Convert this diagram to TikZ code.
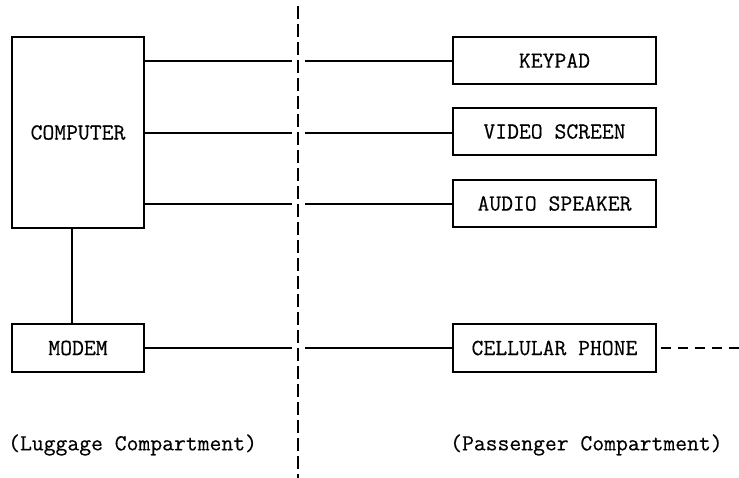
\documentclass[tikz,border=0pt]{standalone}
\usepackage{fontspec}
\newfontfamily\reftt{Latin Modern Mono}[FakeBold=0.4]
\begin{document}
\begin{tikzpicture}[x=1pt,y=-1pt,
  tt/.style={font=\reftt\fontsize{23}{26}\selectfont},
  box/.style={draw,line width=1.4pt,rectangle,inner sep=0pt,tt},
  wire/.style={line width=1.3pt},
  lbl/.style={tt,inner sep=0pt,anchor=west}]
\useasboundingbox (0,0) rectangle (739,478);
% boxes
\node[box,minimum width=132pt,minimum height=191pt] (comp) at (78,132.5) {COMPUTER};
\node[box,minimum width=132pt,minimum height=48pt] (modem) at (78,348) {MODEM};
\node[box,minimum width=203pt,minimum height=47pt] (key) at (554.5,60.5) {KEYPAD};
\node[box,minimum width=203pt,minimum height=47pt] (video) at (554.5,131.5) {VIDEO SCREEN};
\node[box,minimum width=203pt,minimum height=47pt] (audio) at (554.5,203.5) {AUDIO SPEAKER};
\node[box,minimum width=203pt,minimum height=48pt] (cell) at (554.5,348) {CELLULAR PHONE};
% compartment divider
\coordinate (dtop) at (298,6);
\coordinate (dbot) at (298,478);
\draw[line width=1.3pt,dash pattern=on 13pt off 5pt] (dtop) -- (dbot);
% connectors with gap at divider
\foreach \n/\yy in {key/61,video/133,audio/204}{
  \coordinate (l\n) at (292,\yy);
  \coordinate (r\n) at (305,\yy);
}
\draw[wire] (comp.east |- lkey) -- (lkey);
\draw[wire] (rkey) -- (key.west |- rkey);
\draw[wire] (comp.east |- lvideo) -- (lvideo);
\draw[wire] (rvideo) -- (video.west |- rvideo);
\draw[wire] (comp.east |- laudio) -- (laudio);
\draw[wire] (raudio) -- (audio.west |- raudio);
\coordinate (lmodem) at (292,348);
\coordinate (rmodem) at (305,348);
\draw[wire] (modem.east) -- (lmodem);
\draw[wire] (rmodem) -- (cell.west);
\coordinate (ctop) at (72,228);
\draw[wire] (comp.south -| ctop) -- (modem.north -| ctop);
\coordinate (cellend) at (739,348);
\draw[wire,dash pattern=on 10pt off 7pt] ([xshift=4pt]cell.east) -- (cellend);
% labels
\node[lbl] (lug) at (8,445) {(Luggage Compartment)};
\node[lbl] (pas) at (450,445) {(Passenger Compartment)};
\end{tikzpicture}
\end{document}
